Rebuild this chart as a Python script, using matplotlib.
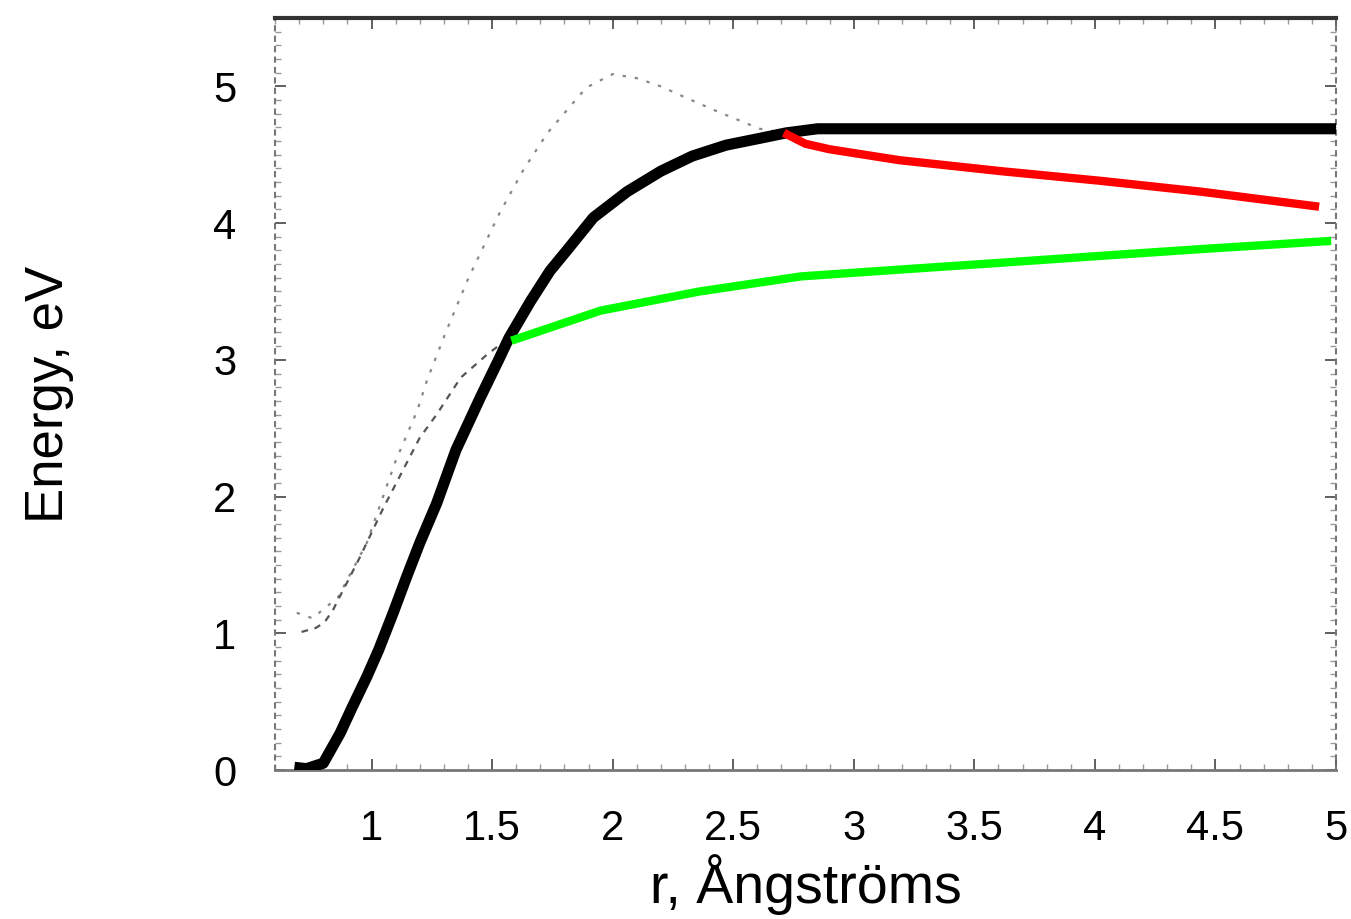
import numpy as np
import matplotlib
matplotlib.use("Agg")
import matplotlib.pyplot as plt
from matplotlib.ticker import MultipleLocator

plt.rcParams['font.family'] = ['Liberation Sans', 'DejaVu Sans']

# ground state curve (thick black)
black_r = [0.68, 0.73, 0.80, 0.87, 0.92, 0.98, 1.03, 1.09, 1.145, 1.20, 1.27,
           1.35, 1.45, 1.53, 1.57, 1.66, 1.74, 1.81, 1.92, 2.06, 2.20, 2.33,
           2.47, 2.61, 2.72, 2.85, 3.0, 4.0, 5.0]
black_E = [0.02, 0.01, 0.05, 0.27, 0.46, 0.68, 0.88, 1.15, 1.41, 1.66, 1.95,
           2.34, 2.72, 3.01, 3.16, 3.43, 3.65, 3.80, 4.04, 4.23, 4.38, 4.49,
           4.57, 4.62, 4.66, 4.69, 4.69, 4.69, 4.69]

# green branch
green_r = [1.58, 1.95, 2.36, 2.78, 3.19, 3.61, 4.02, 4.44, 4.98]
green_E = [3.14, 3.36, 3.50, 3.61, 3.66, 3.71, 3.76, 3.81, 3.87]

# red branch
red_r = [2.71, 2.80, 2.90, 3.19, 3.61, 4.02, 4.44, 4.93]
red_E = [4.66, 4.58, 4.54, 4.46, 4.38, 4.31, 4.23, 4.12]

# faint dotted upper curve
up_r = [0.69, 0.755, 0.81, 0.86, 0.98, 1.10, 1.19, 1.23, 1.31, 1.40, 1.53, 1.63,
        1.73, 1.89, 2.0, 2.1, 2.2, 2.3, 2.43, 2.61, 2.71]
up_E = [1.15, 1.11, 1.19, 1.26, 1.66, 2.26, 2.63, 2.85, 3.21, 3.59, 4.07, 4.39,
        4.66, 4.99, 5.09, 5.06, 5.00, 4.92, 4.82, 4.69, 4.66]

# faint dashed lower curve
low_r = [0.71, 0.77, 0.805, 0.84, 0.95, 1.05, 1.10, 1.20, 1.27, 1.37, 1.48, 1.57]
low_E = [1.01, 1.04, 1.08, 1.17, 1.55, 1.92, 2.09, 2.43, 2.60, 2.87, 3.04, 3.16]

x_ticks = [1, 1.5, 2, 2.5, 3, 3.5, 4, 4.5, 5]
x_labels = ['1', '1.5', '2', '2.5', '3', '3.5', '4', '4.5', '5']
y_ticks = [0, 1, 2, 3, 4, 5]

fig = plt.figure(figsize=(13.51, 9.19), dpi=100)
ax = fig.add_axes([0.2036, 0.1621, 0.9889 - 0.2036, 0.9804 - 0.1621])

ax.plot(up_r, up_E, color='#888888', lw=1.6, ls=(0, (1.5, 4)))
ax.plot(low_r, low_E, color='#555555', lw=1.6, ls=(0, (3, 3)))
ax.plot(black_r, black_E, color='black', lw=8, solid_capstyle='butt',
        solid_joinstyle='round', zorder=3)
ax.plot(green_r, green_E, color='#00ff00', lw=6, solid_capstyle='butt',
        solid_joinstyle='round', zorder=4)
ax.plot(red_r, red_E, color='#ff0000', lw=6, solid_capstyle='butt',
        solid_joinstyle='round', zorder=4)

ax.set_xlim(0.6, 5.0)
ax.set_ylim(0, 5.5)
ax.set_xticks(x_ticks)
ax.set_xticklabels(x_labels)
ax.set_yticks(y_ticks)
ax.xaxis.set_minor_locator(MultipleLocator(0.1))
ax.yaxis.set_minor_locator(MultipleLocator(0.1))
ax.tick_params(axis='both', which='major', direction='in', length=8, width=1.2,
               labelsize=30, pad=28, colors='#444444', labelcolor='black')
ax.tick_params(axis='both', which='minor', direction='in', length=4, width=1,
               colors='#999999')
ax.tick_params(axis='x', which='both', top=True)
ax.tick_params(axis='y', which='both', right=True)

for s in ['left', 'right']:
    ax.spines[s].set_linestyle((0, (2, 3)))
    ax.spines[s].set_color('#777777')
    ax.spines[s].set_linewidth(1.5)
ax.spines['top'].set_color('#333333')
ax.spines['top'].set_linewidth(3)
ax.spines['bottom'].set_color('#777777')
ax.spines['bottom'].set_linewidth(2)

ax.set_xlabel('r, Ångströms', fontsize=40, labelpad=4)
ax.set_ylabel('Energy, eV', fontsize=38, labelpad=100)

fig.savefig('out.png', dpi=100)
